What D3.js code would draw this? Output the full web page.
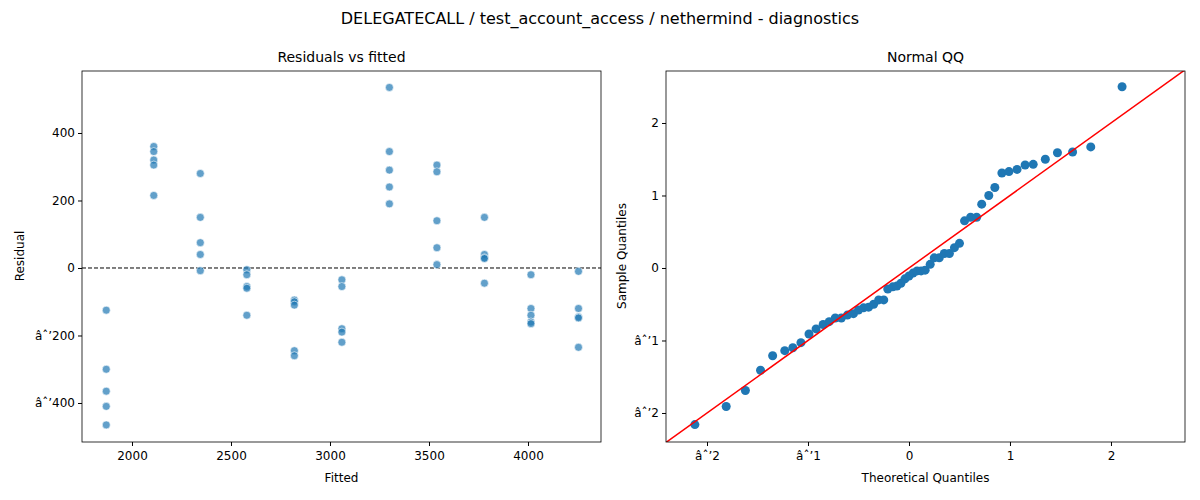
<!DOCTYPE html><html><head><script src="https://cdn.jsdelivr.net/npm/d3@7"></script>
<style>body{margin:0;background:#fff;font-family:"DejaVu Sans",sans-serif}</style></head><body><svg width="1200" height="500"></svg>
<script>
const fittedLevels=[1870,2110,2345,2580,2820,3060,3300,3540,3780,4015,4255];
const residuals=[
[-125,-300,-365,-410,-465],[360,345,320,305,215],[280,150,75,40,-8],[-5,-20,-55,-60,-140],
[-95,-100,-110,-245,-260],[-35,-55,-180,-190,-220],[535,345,290,240,190],[305,285,140,60,10],
[150,40,30,28,-45],[-20,-120,-140,-160,-165],[-10,-120,-145,-148,-235]];
const theoQ=[-2.12,-1.81,-1.62,-1.47,-1.35,-1.23,-1.15,-1.07,-0.99,-0.92,-0.85,-0.79,-0.73,-0.67,-0.61,-0.55,-0.50,-0.45,-0.40,-0.35,-0.30,-0.25,-0.21,-0.16,-0.12,-0.08,-0.04,0,0.04,0.08,0.12,0.16,0.21,0.25,0.30,0.35,0.40,0.45,0.50,0.55,0.61,0.67,0.72,0.79,0.85,0.92,0.99,1.07,1.15,1.23,1.35,1.47,1.62,1.80,2.11];
const sampleQ=[-2.16,-1.91,-1.69,-1.41,-1.21,-1.14,-1.1,-1.03,-0.91,-0.84,-0.78,-0.74,-0.69,-0.69,-0.65,-0.63,-0.58,-0.55,-0.54,-0.50,-0.44,-0.44,-0.29,-0.26,-0.25,-0.21,-0.15,-0.11,-0.07,-0.04,-0.04,-0.03,0.05,0.14,0.14,0.2,0.2,0.28,0.34,0.65,0.7,0.7,0.88,1.0,1.11,1.31,1.33,1.36,1.42,1.43,1.5,1.59,1.6,1.67,2.5];
const svg=d3.select("svg");
svg.append("text").attr("x",600).attr("y",24).attr("text-anchor","middle").attr("font-size",16).text("DELEGATECALL / test_account_access / nethermind - diagnostics");
const fmt=d=>d<0?"−"+Math.abs(d):String(d);
function panel(x0,x1,xd,yd,title,xl,yl,xt,yt){
 const x=d3.scaleLinear().domain(xd).range([x0,x1]),y=d3.scaleLinear().domain(yd).range([442,71]);
 const g=svg.append("g");
 g.append("g").attr("transform","translate(0,442)").call(d3.axisBottom(x).tickValues(xt).tickFormat(fmt).tickSizeOuter(0).tickSize(4)).call(a=>{a.select(".domain").remove();a.selectAll("text").attr("font-size",12).attr("dy","0.9em")});
 g.append("g").attr("transform",`translate(${x0},0)`).call(d3.axisLeft(y).tickValues(yt).tickFormat(fmt).tickSize(4)).call(a=>{a.select(".domain").remove();a.selectAll("text").attr("font-size",12)});
 g.selectAll(".tick text").attr("font-family","DejaVu Sans").attr("fill","#000");
 g.append("text").attr("x",(x0+x1)/2).attr("y",62).attr("text-anchor","middle").attr("font-size",14).text(title);
 g.append("text").attr("x",(x0+x1)/2).attr("y",482).attr("text-anchor","middle").attr("font-size",12).text(xl);
 g.append("text").attr("class","yl").attr("transform",`translate(${x0-58},256) rotate(-90)`).attr("text-anchor","middle").attr("font-size",12).text(yl);
 return {x,y,g,box:()=>g.append("rect").attr("x",x0).attr("y",71).attr("width",x1-x0).attr("height",371).attr("fill","none").attr("stroke","#000").attr("stroke-width",0.8)};
}
const L=panel(82,601,[1747.5,4368.7],[-515.6,583.7],"Residuals vs fitted","Fitted","Residual",[2000,2500,3000,3500,4000],[-400,-200,0,200,400]);
L.g.append("line").attr("x1",82).attr("x2",601).attr("y1",L.y(0)).attr("y2",L.y(0)).attr("stroke","#000").attr("stroke-dasharray","4,2").attr("stroke-width",1);
const pts=[];fittedLevels.forEach((f,i)=>residuals[i].forEach(r=>pts.push([f,r])));
L.g.selectAll("circle").data(pts).join("circle").attr("cx",d=>L.x(d[0])).attr("cy",d=>L.y(d[1])).attr("r",4).attr("fill","#1f77b4").attr("fill-opacity",0.7).attr("stroke","#fff").attr("stroke-width",0.6);
L.box();
const R=panel(666,1185,[-2.406,2.733],[-2.4,2.717],"Normal QQ","Theoretical Quantiles","Sample Quantiles",[-2,-1,0,1,2],[-2,-1,0,1,2]);
R.g.select(".yl").attr("transform","translate(626,256) rotate(-90)");
R.g.append("clipPath").attr("id","c").append("rect").attr("x",666).attr("y",71).attr("width",519).attr("height",371);
R.g.selectAll("circle").data(theoQ).join("circle").attr("cx",d=>R.x(d)).attr("cy",(d,i)=>R.y(sampleQ[i])).attr("r",4.5).attr("fill","#1f77b4");
R.g.append("line").attr("clip-path","url(#c)").attr("x1",R.x(-2.5)).attr("y1",R.y(-2.5)).attr("x2",R.x(2.8)).attr("y2",R.y(2.8)).attr("stroke","red").attr("stroke-width",1.5);
R.box();
</script></body></html>
